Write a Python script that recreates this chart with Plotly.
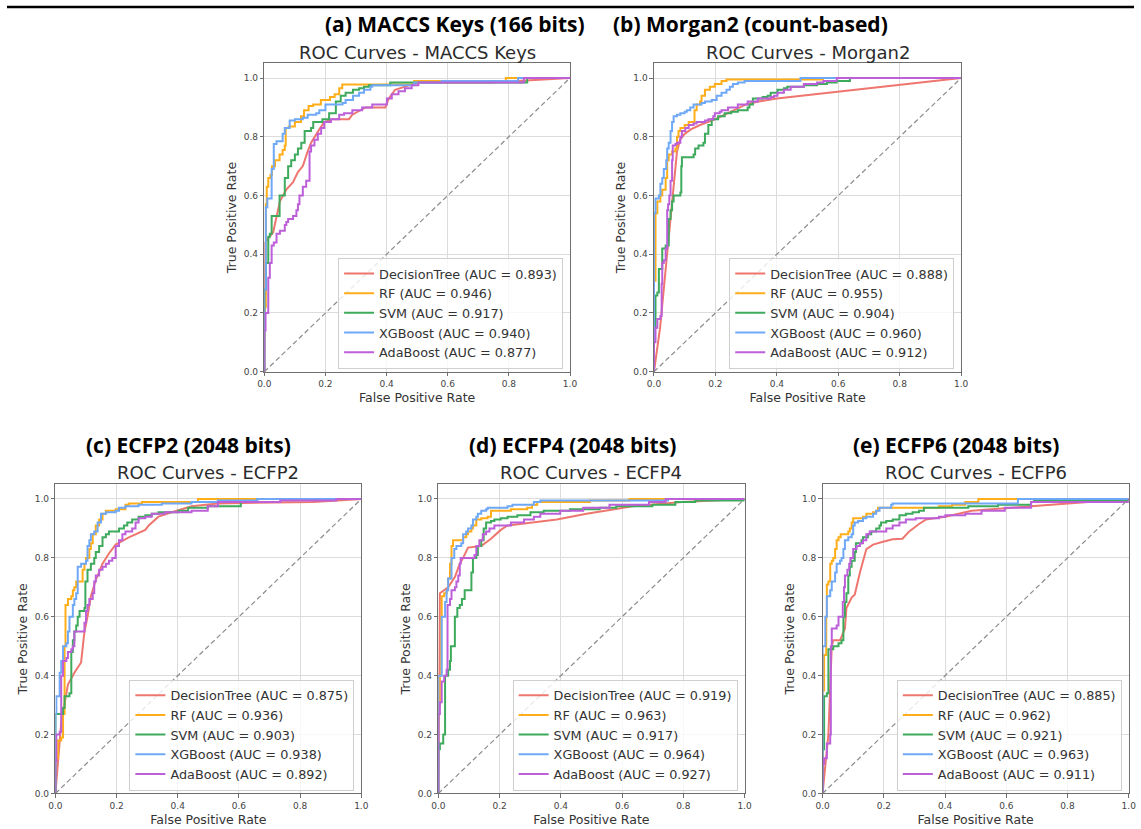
import plotly.graph_objects as go

W, H = 1141, 829

MODELS = ["DecisionTree", "RF", "SVM", "XGBoost", "AdaBoost"]
COLORS = ["#EE766F", "#FFAE1A", "#3DAA5C", "#6FA8F7", "#BC5FD9"]

PANEL_LABELS = ["(a) MACCS Keys (166 bits)", "(b) Morgan2 (count-based)",
                "(c) ECFP2 (2048 bits)", "(d) ECFP4 (2048 bits)", "(e) ECFP6 (2048 bits)"]
PANEL_TITLES = ["ROC Curves - MACCS Keys", "ROC Curves - Morgan2",
                "ROC Curves - ECFP2", "ROC Curves - ECFP4", "ROC Curves - ECFP6"]

AUC_MACCS = [0.893, 0.946, 0.917, 0.940, 0.877]
AUC_MORGAN2 = [0.888, 0.955, 0.904, 0.960, 0.912]
AUC_ECFP2 = [0.875, 0.936, 0.903, 0.938, 0.892]
AUC_ECFP4 = [0.919, 0.963, 0.917, 0.964, 0.927]
AUC_ECFP6 = [0.885, 0.962, 0.921, 0.963, 0.911]

TICKS = [0.0, 0.2, 0.4, 0.6, 0.8, 1.0]
TICK_TEXT = ["0.0", "0.2", "0.4", "0.6", "0.8", "1.0"]

# ---------------- (a) MACCS Keys : (FPR, TPR) points ----------------
MACCS_DT = [(0, 0), (0.003, 0.44), (0.029, 0.475), (0.051, 0.58), (0.072, 0.62), (0.094, 0.645),
            (0.11, 0.68), (0.126, 0.70), (0.142, 0.75), (0.153, 0.78), (0.18, 0.825), (0.196, 0.85),
            (0.223, 0.86), (0.277, 0.86), (0.288, 0.875), (0.331, 0.9), (0.396, 0.9), (0.407, 0.93),
            (0.428, 0.96), (0.46, 0.97), (0.504, 0.985), (0.741, 0.985), (1, 1)]
MACCS_RF = [(0, 0), (0, 0.22), (0.005, 0.57), (0.008, 0.63), (0.013, 0.66), (0.02, 0.67), (0.025, 0.70),
            (0.035, 0.72), (0.05, 0.74), (0.06, 0.755), (0.067, 0.77), (0.07, 0.83), (0.08, 0.835),
            (0.1, 0.85), (0.12, 0.87), (0.13, 0.89), (0.145, 0.905), (0.16, 0.91), (0.185, 0.925),
            (0.215, 0.935), (0.23, 0.945), (0.245, 0.965), (0.255, 0.978), (0.49, 0.99), (0.79, 1.0), (1, 1)]
MACCS_SVM = [(0, 0), (0, 0.28), (0.005, 0.37), (0.013, 0.46), (0.018, 0.47), (0.024, 0.53), (0.05, 0.60),
             (0.067, 0.66), (0.078, 0.70), (0.088, 0.72), (0.1, 0.74), (0.11, 0.76), (0.121, 0.78),
             (0.132, 0.82), (0.153, 0.83), (0.16, 0.85), (0.19, 0.86), (0.212, 0.88), (0.234, 0.92),
             (0.25, 0.94), (0.266, 0.95), (0.29, 0.96), (0.31, 0.965), (0.326, 0.97), (0.342, 0.975),
             (0.412, 0.985), (0.86, 1.0), (1, 1)]
MACCS_XGB = [(0, 0), (0, 0.28), (0.005, 0.56), (0.01, 0.59), (0.024, 0.69), (0.031, 0.775), (0.04, 0.785),
             (0.06, 0.81), (0.067, 0.83), (0.083, 0.855), (0.1, 0.86), (0.126, 0.865), (0.142, 0.875),
             (0.17, 0.88), (0.18, 0.89), (0.2, 0.91), (0.256, 0.915), (0.266, 0.925), (0.29, 0.94),
             (0.31, 0.95), (0.326, 0.96), (0.347, 0.97), (0.353, 0.975), (0.49, 0.985), (0.58, 0.99),
             (0.83, 1.0), (1, 1)]
MACCS_ADA = [(0, 0), (0, 0.14), (0.004, 0.2), (0.013, 0.32), (0.018, 0.37), (0.024, 0.43), (0.031, 0.44),
             (0.04, 0.47), (0.051, 0.48), (0.067, 0.5), (0.072, 0.51), (0.078, 0.52), (0.094, 0.53),
             (0.105, 0.55), (0.11, 0.57), (0.115, 0.6), (0.126, 0.63), (0.137, 0.65), (0.148, 0.75),
             (0.153, 0.77), (0.164, 0.79), (0.175, 0.81), (0.186, 0.83), (0.196, 0.85), (0.218, 0.86),
             (0.245, 0.875), (0.261, 0.88), (0.288, 0.89), (0.32, 0.9), (0.353, 0.91), (0.401, 0.93),
             (0.417, 0.945), (0.439, 0.955), (0.46, 0.965), (0.482, 0.975), (0.504, 0.985), (0.849, 1.0), (1, 1)]

# ---------------- (b) Morgan2 ----------------
MORGAN2_DT = [(0, 0), (0.02, 0.15), (0.04, 0.37), (0.06, 0.6), (0.075, 0.75), (0.085, 0.79), (0.1, 0.81),
              (0.12, 0.825), (0.15, 0.84), (0.2, 0.86), (0.25, 0.885), (0.3, 0.91), (0.34, 0.92),
              (0.4, 0.93), (1, 1)]
MORGAN2_RF = [(0, 0), (0, 0.31), (0.005, 0.54), (0.011, 0.58), (0.021, 0.6), (0.027, 0.62), (0.038, 0.66),
              (0.043, 0.72), (0.048, 0.74), (0.059, 0.75), (0.07, 0.76), (0.075, 0.8), (0.08, 0.82),
              (0.086, 0.83), (0.1, 0.84), (0.113, 0.85), (0.132, 0.89), (0.139, 0.91), (0.15, 0.92),
              (0.155, 0.94), (0.166, 0.96), (0.182, 0.97), (0.198, 0.98), (0.22, 0.99), (0.236, 0.995),
              (0.55, 1.0), (1, 1)]
MORGAN2_SVM = [(0, 0), (0, 0.15), (0.005, 0.26), (0.011, 0.27), (0.016, 0.35), (0.027, 0.42), (0.038, 0.43),
               (0.048, 0.52), (0.054, 0.55), (0.059, 0.58), (0.064, 0.6), (0.086, 0.61), (0.089, 0.7),
               (0.091, 0.73), (0.129, 0.74), (0.134, 0.76), (0.145, 0.77), (0.161, 0.78), (0.166, 0.81),
               (0.177, 0.84), (0.188, 0.86), (0.209, 0.87), (0.23, 0.88), (0.252, 0.885), (0.273, 0.89),
               (0.305, 0.9), (0.311, 0.91), (0.322, 0.93), (0.354, 0.935), (0.37, 0.94), (0.38, 0.95),
               (0.402, 0.96), (0.423, 0.965), (0.434, 0.97), (0.488, 0.975), (0.531, 0.98), (0.563, 0.985),
               (0.595, 0.99), (0.638, 1.0), (1, 1)]
MORGAN2_XGB = [(0, 0), (0, 0.54), (0.005, 0.59), (0.016, 0.6), (0.021, 0.64), (0.027, 0.66), (0.032, 0.69),
               (0.04, 0.72), (0.043, 0.76), (0.048, 0.78), (0.054, 0.82), (0.059, 0.85), (0.064, 0.87),
               (0.075, 0.875), (0.086, 0.88), (0.1, 0.885), (0.107, 0.89), (0.118, 0.9), (0.129, 0.91),
               (0.155, 0.915), (0.166, 0.92), (0.188, 0.925), (0.204, 0.94), (0.22, 0.95), (0.236, 0.96),
               (0.247, 0.97), (0.257, 0.98), (0.273, 0.985), (0.295, 0.99), (0.477, 1.0), (1, 1)]
MORGAN2_ADA = [(0, 0), (0, 0.1), (0.005, 0.15), (0.011, 0.18), (0.021, 0.19), (0.025, 0.3), (0.027, 0.37),
               (0.032, 0.38), (0.038, 0.42), (0.043, 0.55), (0.046, 0.57), (0.05, 0.6), (0.054, 0.65),
               (0.059, 0.72), (0.061, 0.77), (0.07, 0.775), (0.075, 0.78), (0.086, 0.8), (0.091, 0.82),
               (0.102, 0.83), (0.113, 0.84), (0.129, 0.845), (0.139, 0.85), (0.166, 0.855), (0.177, 0.86),
               (0.193, 0.87), (0.198, 0.88), (0.214, 0.885), (0.22, 0.89), (0.241, 0.9), (0.273, 0.91),
               (0.305, 0.92), (0.338, 0.93), (0.38, 0.935), (0.391, 0.94), (0.402, 0.95), (0.423, 0.96),
               (0.445, 0.97), (0.488, 0.98), (0.531, 0.985), (0.552, 0.99), (0.595, 1.0), (1, 1)]

# ---------------- (c) ECFP2 ----------------
ECFP2_DT = [(0, 0), (0.019, 0.24), (0.041, 0.37), (0.062, 0.41), (0.084, 0.445), (0.095, 0.55),
            (0.105, 0.6), (0.116, 0.67), (0.132, 0.725), (0.154, 0.78), (0.175, 0.815), (0.197, 0.845),
            (0.24, 0.87), (0.294, 0.895), (0.305, 0.91), (0.337, 0.94), (0.38, 0.955), (0.445, 0.975),
            (0.531, 0.985), (0.843, 0.99), (1, 1)]
ECFP2_RF = [(0, 0), (0, 0.12), (0.009, 0.18), (0.019, 0.19), (0.025, 0.27), (0.03, 0.5), (0.033, 0.64),
            (0.041, 0.66), (0.052, 0.67), (0.057, 0.69), (0.062, 0.7), (0.068, 0.72), (0.089, 0.76),
            (0.095, 0.78), (0.1, 0.8), (0.111, 0.83), (0.116, 0.85), (0.122, 0.88), (0.132, 0.91),
            (0.143, 0.93), (0.154, 0.95), (0.165, 0.96), (0.197, 0.965), (0.229, 0.98), (0.24, 0.985),
            (0.283, 0.99), (0.466, 1.0), (1, 1)]
ECFP2_SVM = [(0, 0), (0, 0.27), (0.025, 0.29), (0.03, 0.33), (0.046, 0.34), (0.052, 0.48), (0.057, 0.52),
             (0.062, 0.55), (0.068, 0.57), (0.073, 0.6), (0.079, 0.62), (0.095, 0.63), (0.098, 0.72),
             (0.105, 0.76), (0.116, 0.78), (0.127, 0.8), (0.132, 0.82), (0.143, 0.84), (0.154, 0.87),
             (0.165, 0.88), (0.175, 0.89), (0.208, 0.9), (0.224, 0.91), (0.235, 0.92), (0.251, 0.93),
             (0.272, 0.94), (0.294, 0.945), (0.315, 0.95), (0.337, 0.955), (0.402, 0.96), (0.434, 0.97),
             (0.498, 0.975), (0.606, 0.99), (0.66, 1.0), (1, 1)]
ECFP2_XGB = [(0, 0), (0, 0.27), (0.003, 0.33), (0.014, 0.41), (0.019, 0.45), (0.025, 0.5), (0.036, 0.51),
             (0.041, 0.55), (0.046, 0.6), (0.057, 0.64), (0.062, 0.66), (0.068, 0.68), (0.073, 0.77),
             (0.084, 0.78), (0.1, 0.79), (0.105, 0.84), (0.111, 0.86), (0.116, 0.88), (0.127, 0.89),
             (0.138, 0.92), (0.149, 0.95), (0.165, 0.955), (0.197, 0.96), (0.208, 0.97), (0.229, 0.975),
             (0.272, 0.98), (0.348, 0.985), (0.445, 0.99), (0.531, 0.995), (0.66, 1.0), (1, 1)]
ECFP2_ADA = [(0, 0), (0, 0.11), (0.003, 0.2), (0.014, 0.21), (0.019, 0.4), (0.025, 0.45), (0.036, 0.46),
             (0.041, 0.48), (0.052, 0.49), (0.057, 0.5), (0.062, 0.55), (0.095, 0.58), (0.1, 0.62),
             (0.105, 0.64), (0.111, 0.66), (0.122, 0.68), (0.127, 0.72), (0.132, 0.74), (0.143, 0.76),
             (0.154, 0.77), (0.165, 0.78), (0.175, 0.79), (0.186, 0.8), (0.197, 0.84), (0.208, 0.86),
             (0.219, 0.88), (0.229, 0.89), (0.251, 0.9), (0.262, 0.92), (0.272, 0.935), (0.294, 0.94),
             (0.315, 0.95), (0.358, 0.955), (0.445, 0.96), (0.498, 0.975), (0.531, 0.99), (0.735, 0.995),
             (0.918, 1.0), (1, 1)]

# ---------------- (d) ECFP4 ----------------
ECFP4_DT = [(0, 0), (0.005, 0.68), (0.032, 0.7), (0.054, 0.735), (0.07, 0.78), (0.081, 0.8), (0.097, 0.835),
            (0.14, 0.84), (0.172, 0.865), (0.204, 0.895), (0.226, 0.91), (0.312, 0.92), (0.387, 0.93),
            (0.484, 0.95), (0.634, 0.975), (0.796, 0.99), (1, 1)]
ECFP4_RF = [(0, 0), (0, 0.3), (0.005, 0.4), (0.009, 0.6), (0.011, 0.67), (0.019, 0.68), (0.027, 0.69),
            (0.032, 0.73), (0.038, 0.78), (0.043, 0.84), (0.048, 0.86), (0.081, 0.87), (0.091, 0.88),
            (0.097, 0.89), (0.108, 0.9), (0.113, 0.91), (0.124, 0.93), (0.14, 0.935), (0.161, 0.94),
            (0.172, 0.96), (0.237, 0.965), (0.29, 0.97), (0.306, 0.98), (0.323, 0.99), (0.495, 0.995),
            (0.624, 1.0), (1, 1)]
ECFP4_SVM = [(0, 0), (0, 0.15), (0.005, 0.17), (0.016, 0.2), (0.022, 0.4), (0.032, 0.42), (0.038, 0.45),
             (0.041, 0.5), (0.054, 0.6), (0.062, 0.63), (0.07, 0.64), (0.077, 0.66), (0.086, 0.69),
             (0.102, 0.69), (0.108, 0.75), (0.113, 0.8), (0.124, 0.81), (0.129, 0.84), (0.14, 0.86),
             (0.148, 0.9), (0.156, 0.92), (0.172, 0.925), (0.183, 0.93), (0.204, 0.935), (0.226, 0.94),
             (0.258, 0.945), (0.301, 0.955), (0.344, 0.96), (0.43, 0.965), (0.527, 0.97), (0.581, 0.975),
             (0.699, 0.98), (0.774, 0.99), (0.839, 0.995), (1, 1)]
ECFP4_XGB = [(0, 0), (0, 0.4), (0.011, 0.6), (0.022, 0.65), (0.027, 0.69), (0.032, 0.73), (0.043, 0.8),
             (0.052, 0.83), (0.059, 0.84), (0.075, 0.85), (0.081, 0.88), (0.091, 0.89), (0.097, 0.9),
             (0.108, 0.91), (0.113, 0.93), (0.124, 0.94), (0.129, 0.95), (0.14, 0.96), (0.156, 0.965),
             (0.161, 0.97), (0.226, 0.975), (0.242, 0.98), (0.312, 0.99), (0.333, 0.995), (0.75, 1.0), (1, 1)]
ECFP4_ADA = [(0, 0), (0, 0.27), (0.005, 0.31), (0.011, 0.38), (0.019, 0.4), (0.027, 0.42), (0.03, 0.64),
             (0.038, 0.66), (0.043, 0.69), (0.054, 0.7), (0.059, 0.72), (0.065, 0.74), (0.07, 0.78),
             (0.073, 0.8), (0.118, 0.81), (0.124, 0.84), (0.134, 0.86), (0.145, 0.88), (0.156, 0.89),
             (0.167, 0.9), (0.183, 0.91), (0.237, 0.92), (0.28, 0.93), (0.312, 0.94), (0.333, 0.95),
             (0.398, 0.96), (0.473, 0.97), (0.559, 0.98), (0.688, 0.99), (0.742, 1.0), (1, 1)]

# ---------------- (e) ECFP6 ----------------
ECFP6_DT = [(0, 0), (0.019, 0.2), (0.03, 0.5), (0.035, 0.52), (0.057, 0.52), (0.073, 0.56), (0.078, 0.63),
            (0.095, 0.665), (0.105, 0.675), (0.122, 0.75), (0.143, 0.83), (0.165, 0.845), (0.197, 0.855),
            (0.229, 0.863), (0.261, 0.865), (0.283, 0.89), (0.315, 0.915), (0.337, 0.93), (0.401, 0.94),
            (0.487, 0.96), (0.681, 0.975), (1, 1)]
ECFP6_RF = [(0, 0), (0, 0.35), (0.005, 0.47), (0.012, 0.6), (0.014, 0.71), (0.019, 0.72), (0.025, 0.78),
            (0.03, 0.79), (0.035, 0.8), (0.041, 0.83), (0.046, 0.86), (0.052, 0.87), (0.059, 0.88),
            (0.084, 0.89), (0.089, 0.9), (0.095, 0.92), (0.1, 0.935), (0.132, 0.94), (0.143, 0.95),
            (0.165, 0.955), (0.175, 0.96), (0.181, 0.97), (0.38, 0.975), (0.423, 0.98), (0.466, 0.99),
            (0.509, 1.0), (1, 1)]
ECFP6_SVM = [(0, 0), (0, 0.15), (0.005, 0.33), (0.014, 0.34), (0.019, 0.49), (0.035, 0.5), (0.052, 0.51),
             (0.062, 0.52), (0.068, 0.6), (0.073, 0.65), (0.078, 0.68), (0.084, 0.74), (0.089, 0.77),
             (0.095, 0.79), (0.105, 0.82), (0.109, 0.85), (0.127, 0.86), (0.132, 0.87), (0.148, 0.88),
             (0.159, 0.89), (0.175, 0.9), (0.186, 0.91), (0.191, 0.92), (0.208, 0.925), (0.229, 0.93),
             (0.251, 0.945), (0.272, 0.95), (0.294, 0.955), (0.315, 0.96), (0.331, 0.97), (0.476, 0.975),
             (0.573, 0.98), (0.681, 0.99), (0.691, 0.995), (1, 1)]
ECFP6_XGB = [(0, 0), (0, 0.5), (0.009, 0.6), (0.014, 0.67), (0.025, 0.69), (0.03, 0.72), (0.041, 0.75),
             (0.046, 0.78), (0.057, 0.79), (0.062, 0.8), (0.068, 0.83), (0.073, 0.86), (0.084, 0.87),
             (0.095, 0.88), (0.1, 0.91), (0.105, 0.92), (0.116, 0.925), (0.132, 0.935), (0.143, 0.94),
             (0.165, 0.95), (0.175, 0.96), (0.186, 0.97), (0.224, 0.98), (0.229, 0.985), (0.638, 1.0), (1, 1)]
ECFP6_ADA = [(0, 0), (0, 0.1), (0.005, 0.12), (0.014, 0.17), (0.025, 0.2), (0.027, 0.5), (0.03, 0.56),
             (0.046, 0.57), (0.052, 0.6), (0.066, 0.65), (0.07, 0.7), (0.073, 0.74), (0.081, 0.76),
             (0.087, 0.78), (0.091, 0.8), (0.1, 0.83), (0.111, 0.84), (0.122, 0.85), (0.132, 0.86),
             (0.143, 0.88), (0.154, 0.89), (0.208, 0.9), (0.229, 0.91), (0.251, 0.92), (0.272, 0.93),
             (0.304, 0.935), (0.38, 0.94), (0.401, 0.945), (0.466, 0.95), (0.519, 0.96), (0.595, 0.97),
             (0.681, 0.99), (1, 1)]

CURVES = [
    [MACCS_DT, MACCS_RF, MACCS_SVM, MACCS_XGB, MACCS_ADA],
    [MORGAN2_DT, MORGAN2_RF, MORGAN2_SVM, MORGAN2_XGB, MORGAN2_ADA],
    [ECFP2_DT, ECFP2_RF, ECFP2_SVM, ECFP2_XGB, ECFP2_ADA],
    [ECFP4_DT, ECFP4_RF, ECFP4_SVM, ECFP4_XGB, ECFP4_ADA],
    [ECFP6_DT, ECFP6_RF, ECFP6_SVM, ECFP6_XGB, ECFP6_ADA],
]
AUCS = [AUC_MACCS, AUC_MORGAN2, AUC_ECFP2, AUC_ECFP4, AUC_ECFP6]

# ---------------- layout (pixel boxes: left, right, top, bottom) ----------------
BOXES = [(260.5, 570, 63.7, 374), (655, 966, 63.7, 374),
         (49, 358.7, 487.2, 798.3), (436.7, 746.7, 487.2, 798.3), (825.7, 1135.7, 487.2, 798.3)]
LABEL_POS = [(454, 24), (753, 24), (184, 448), (572.5, 448), (961, 448)]
TITLE_Y = [53, 53, 475, 475, 475]

FONT = "DejaVu Sans"
fig = go.Figure()
layout = dict(width=W, height=H, margin=dict(l=0, r=0, t=0, b=0),
              paper_bgcolor="white", plot_bgcolor="white", hovermode=False,
              font=dict(family=FONT, color="#333"))
annotations = []

for p in range(5):
    sfx = "" if p == 0 else str(p + 1)
    xa, ya, lg = "x" + sfx, "y" + sfx, "legend" + sfx
    for m in range(5):
        pts = CURVES[p][m]
        fig.add_trace(go.Scatter(
            x=[a for a, b in pts], y=[b for a, b in pts], mode="lines",
            line=dict(color=COLORS[m], width=2, shape="linear" if m == 0 else "hv"),
            name=f"{MODELS[m]} (AUC = {AUCS[p][m]:.3f})",
            xaxis=xa, yaxis=ya, legend=lg))
    fig.add_trace(go.Scatter(x=[0, 1], y=[0, 1], mode="lines",
                             line=dict(color="#8c8c8c", width=1.2, dash="5px,3px"),
                             showlegend=False, xaxis=xa, yaxis=ya))

    l, r, t, b = BOXES[p]
    axis_common = dict(showline=True, mirror=True, linecolor="#6f6f6f", linewidth=1,
                       showgrid=True, gridcolor="#dcdcdc", gridwidth=1, zeroline=False,
                       ticks="outside", ticklen=3.5, tickwidth=1, tickcolor="#6f6f6f",
                       tickvals=TICKS, ticktext=TICK_TEXT,
                       tickfont=dict(family=FONT, size=9, color="#444"))
    layout["xaxis" + sfx] = dict(axis_common, domain=[l / W, r / W], anchor=ya, range=[0, 1],
                                 title=dict(text="False Positive Rate", standoff=5,
                                            font=dict(family=FONT, size=12.5, color="#333")))
    layout["yaxis" + sfx] = dict(axis_common, domain=[1 - b / H, 1 - t / H], anchor=xa, range=[0, 1.05],
                                 title=dict(text="True Positive Rate", standoff=4,
                                            font=dict(family=FONT, size=12.5, color="#333")))
    layout[lg] = dict(x=(r - 7) / W, y=1 - (b - 3) / H, xanchor="right", yanchor="bottom",
                      bgcolor="rgba(255,255,255,0.8)", bordercolor="#cfcfcf", borderwidth=1,
                      font=dict(family=FONT, size=12.8, color="#333"), tracegroupgap=0)

    annotations.append(dict(text=PANEL_TITLES[p], x=(l + r) / 2 / W, y=1 - TITLE_Y[p] / H,
                            xref="paper", yref="paper", xanchor="center", yanchor="middle",
                            showarrow=False, font=dict(family=FONT, size=18, color="#2b2b2b")))
    lx, ly = LABEL_POS[p]
    annotations.append(dict(text="<b>" + PANEL_LABELS[p] + "</b>", x=lx / W, y=1 - ly / H,
                            xref="paper", yref="paper", xanchor="center", yanchor="middle",
                            showarrow=False, font=dict(family="Open Sans", size=21, color="#000")))

layout["annotations"] = annotations
layout["shapes"] = [dict(type="line", xref="paper", yref="paper", x0=0, x1=1,
                         y0=1 - 7 / H, y1=1 - 7 / H, line=dict(color="#000", width=2.5))]
fig.update_layout(**layout)
fig.write_html("out.html", config={"displayModeBar": False},
               post_script="document.body.style.margin='0';document.body.style.overflow='hidden';")
